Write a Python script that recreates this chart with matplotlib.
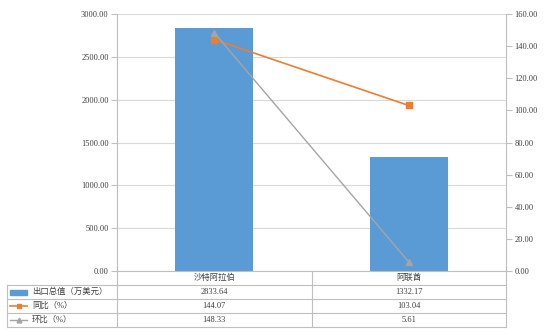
import matplotlib
matplotlib.use("Agg")
import matplotlib.pyplot as plt
from matplotlib.lines import Line2D
from matplotlib.patches import Rectangle

plt.rcParams['font.family'] = ['Liberation Serif', 'Noto Sans CJK SC']

categories = ['沙特阿拉伯', '阿联酋']
export_value = [2833.64, 1332.17]   # 万美元
yoy = [144.07, 103.04]              # 同比 %
mom = [148.33, 5.61]                # 环比 %
series_names = ['出口总值（万美元）', '同比（%）', '环比（%）']

blue = '#5B9BD5'
orange = '#ED7D31'
grey = '#A5A5A5'
gridc = '#D9D9D9'
linec = '#BFBFBF'
fs = 6

fig = plt.figure(figsize=(5.5, 3.33), dpi=100, facecolor='w')
ax = fig.add_axes([117/550, 1 - 271/333, 389/550, 257/333])
ax2 = ax.twinx()

x = list(range(len(categories)))
ax.bar(x, export_value, width=0.4, color=blue, zorder=2)
ax.set_xlim(-0.5, len(categories) - 0.5)
ax.set_ylim(0, 3000)
ax.set_yticks(range(0, 3001, 500))
ax.set_yticklabels(['%.2f' % v for v in range(0, 3001, 500)])
ax.yaxis.grid(True, color=gridc, linewidth=0.8, zorder=0)
ax.set_axisbelow(True)
ax.set_xticks([])

ax2.plot(x, yoy, color=orange, linewidth=1.2, marker='s', markersize=4, zorder=3)
ax2.plot(x, mom, color=grey, linewidth=1.0, marker='^', markersize=4, zorder=3)
ax2.set_ylim(0, 160)
ax2.set_yticks(range(0, 161, 20))
ax2.set_yticklabels(['%.2f' % v for v in range(0, 161, 20)])

for a in (ax, ax2):
    for s in ('top',):
        a.spines[s].set_visible(False)
    for s in ('left', 'right', 'bottom'):
        a.spines[s].set_color(linec)
        a.spines[s].set_linewidth(0.8)
    a.tick_params(axis='y', labelsize=fs, length=4, width=0.8, color=linec,
                  labelcolor='#404040', pad=2)
ax.spines['right'].set_visible(False)
ax2.spines['left'].set_visible(False)
ax2.spines['bottom'].set_visible(False)

# data table under the plot
rh = 14 / 257
lx = -110 / 389
ncat = len(categories)
rows = [export_value, yoy, mom]
kw = dict(transform=ax.transAxes, color=linec, linewidth=0.8, clip_on=False)

for i in range(1, 5):
    x0 = 0 if i == 0 else lx
    ax.add_line(Line2D([lx, 1], [-i * rh, -i * rh], **kw))
ax.add_line(Line2D([lx, lx], [-rh, -4 * rh], **kw))
for k in range(ncat + 1):
    xb = k / ncat
    ax.add_line(Line2D([xb, xb], [0, -4 * rh], **kw))

for j, name in enumerate(categories):
    ax.text((j + 0.5) / ncat, -0.5 * rh, name, transform=ax.transAxes,
            ha='center', va='center', fontsize=fs, color='#404040')
    for r, vals in enumerate(rows):
        ax.text((j + 0.5) / ncat, -(r + 1.5) * rh, '%.2f' % vals[j],
                transform=ax.transAxes, ha='center', va='center',
                fontsize=fs, color='#404040')

# legend keys in the first column
kx0, kx1 = lx + 3 / 389, lx + 20 / 389
yc = -1.5 * rh
ax.add_patch(Rectangle((kx0, yc - 2.5 / 257), kx1 - kx0, 5 / 257, color=blue,
                       transform=ax.transAxes, clip_on=False))
ax.add_line(Line2D([kx0, kx1], [-2.5 * rh] * 2, transform=ax.transAxes,
                   color=orange, linewidth=1.2, clip_on=False))
ax.add_line(Line2D([(kx0 + kx1) / 2], [-2.5 * rh], transform=ax.transAxes,
                   color=orange, marker='s', markersize=3.5, clip_on=False))
ax.add_line(Line2D([kx0, kx1], [-3.5 * rh] * 2, transform=ax.transAxes,
                   color=grey, linewidth=1.0, clip_on=False))
ax.add_line(Line2D([(kx0 + kx1) / 2], [-3.5 * rh], transform=ax.transAxes,
                   color=grey, marker='^', markersize=3.5, clip_on=False))
for r, name in enumerate(series_names):
    ax.text(lx + 25 / 389, -(r + 1.5) * rh, name, transform=ax.transAxes,
            ha='left', va='center', fontsize=fs, color='#404040')

fig.savefig('out.png', dpi=100, facecolor='w')
